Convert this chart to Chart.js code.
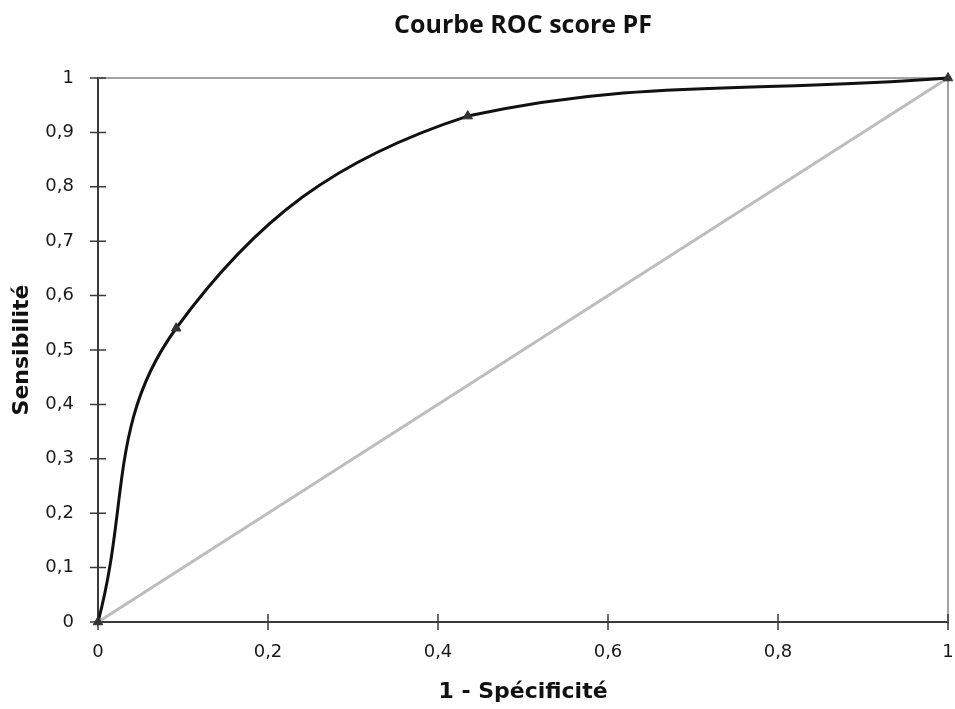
<!DOCTYPE html>
<html lang="fr">
<head>
<meta charset="utf-8">
<title>Courbe ROC score PF</title>
<script src="https://cdn.jsdelivr.net/npm/chart.js@4.4.1/dist/chart.umd.min.js"></script>
<style>
    html, body { margin: 0; padding: 0; background: #ffffff; }
    .chart-box { position: relative; width: 955px; height: 709px; }
</style>
</head>
<body>
<div class="chart-box">
    <canvas id="rocChart"></canvas>
</div>
<script>
// ROC points (1 - specificity, sensitivity)
const rocFpr = [0, 0.092, 0.435, 1];
const rocTpr = [0, 0.54, 0.93, 1];

// chance diagonal
const diagFpr = [0, 1];
const diagTpr = [0, 1];

const xTickValues = [0, 0.2, 0.4, 0.6, 0.8, 1];
const xTickLabels = ["0", "0,2", "0,4", "0,6", "0,8", "1"];
const yTickValues = [0, 0.1, 0.2, 0.3, 0.4, 0.5, 0.6, 0.7, 0.8, 0.9, 1];
const yTickLabels = ["0", "0,1", "0,2", "0,3", "0,4", "0,5", "0,6", "0,7", "0,8", "0,9", "1"];

const axisColor = "#3a3a3a";
const frameColor = "#a3a3a3";

function toPoints(xs, ys) {
    return xs.map((x, i) => ({ x, y: ys[i] }));
}

// grey frame on top/right and tick marks crossing the axes, like the Excel original
const excelFrame = {
    id: "excelFrame",
    beforeDatasetsDraw(chart) {
        const { ctx, chartArea, scales } = chart;
        ctx.save();
        ctx.strokeStyle = frameColor;
        ctx.lineWidth = 2;
        ctx.beginPath();
        ctx.moveTo(chartArea.left, chartArea.top);
        ctx.lineTo(chartArea.right, chartArea.top);
        ctx.lineTo(chartArea.right, chartArea.bottom);
        ctx.stroke();

        ctx.strokeStyle = axisColor;
        ctx.lineWidth = 1.5;
        ctx.beginPath();
        scales.y.ticks.forEach((tick) => {
            const py = scales.y.getPixelForValue(tick.value);
            ctx.moveTo(chartArea.left - 8, py);
            ctx.lineTo(chartArea.left + 8, py);
        });
        scales.x.ticks.forEach((tick) => {
            const px = scales.x.getPixelForValue(tick.value);
            ctx.moveTo(px, chartArea.bottom - 8);
            ctx.lineTo(px, chartArea.bottom + 8);
        });
        ctx.stroke();
        ctx.restore();
    }
};

new Chart(document.getElementById("rocChart"), {
    type: "scatter",
    data: {
        datasets: [
            {
                label: "Score PF",
                data: toPoints(rocFpr, rocTpr),
                showLine: true,
                borderColor: "#111111",
                borderWidth: 3,
                tension: 0.4,
                pointStyle: "triangle",
                pointRadius: 5.5,
                pointBackgroundColor: "#333333",
                pointBorderColor: "#333333",
                pointBorderWidth: 1,
                clip: false,
                order: 1
            },
            {
                label: "Diagonale",
                data: toPoints(diagFpr, diagTpr),
                showLine: true,
                borderColor: "#bdbdbd",
                borderWidth: 3,
                pointRadius: 0,
                order: 2
            }
        ]
    },
    options: {
        responsive: true,
        maintainAspectRatio: false,
        animation: false,
        layout: { padding: { top: 0, right: 7, bottom: 0, left: 0 } },
        plugins: {
            legend: { display: false },
            tooltip: { enabled: false },
            title: {
                display: true,
                text: "Courbe ROC score PF",
                fullSize: false,
                color: "#111111",
                font: { family: "'Open Sans', sans-serif", size: 25, weight: "bold" },
                padding: { top: 11, bottom: 37 }
            }
        },
        scales: {
            x: {
                type: "linear",
                min: 0,
                max: 1,
                afterBuildTicks: (scale) => { scale.ticks = xTickValues.map((value) => ({ value })); },
                afterFit: (scale) => {
                    scale.height = 87;
                    scale.paddingLeft = 0;
                    scale.paddingRight = 0;
                },
                grid: { display: false, drawTicks: false },
                border: { display: true, color: axisColor, width: 2 },
                ticks: {
                    color: "#1a1a1a",
                    padding: 20,
                    maxRotation: 0,
                    font: { family: "'DejaVu Sans', sans-serif", size: 18 },
                    callback: (value, index) => xTickLabels[index]
                },
                title: {
                    display: true,
                    text: "1 - Spécificité",
                    color: "#111111",
                    font: { family: "'DejaVu Sans', sans-serif", size: 22, weight: "bold" },
                    padding: { top: 0, bottom: 4 }
                }
            },
            y: {
                type: "linear",
                min: 0,
                max: 1,
                afterBuildTicks: (scale) => { scale.ticks = yTickValues.map((value) => ({ value })); },
                afterFit: (scale) => { scale.width = 98; },
                grid: { display: false, drawTicks: false },
                border: { display: true, color: axisColor, width: 2 },
                ticks: {
                    color: "#1a1a1a",
                    padding: 24,
                    font: { family: "'DejaVu Sans', sans-serif", size: 18 },
                    callback: (value, index) => yTickLabels[index]
                },
                title: {
                    display: true,
                    text: "Sensibilité",
                    color: "#111111",
                    font: { family: "'DejaVu Sans', sans-serif", size: 22, weight: "bold" },
                    padding: { top: 9, bottom: 0 }
                }
            }
        }
    },
    plugins: [excelFrame]
});
</script>
</body>
</html>
